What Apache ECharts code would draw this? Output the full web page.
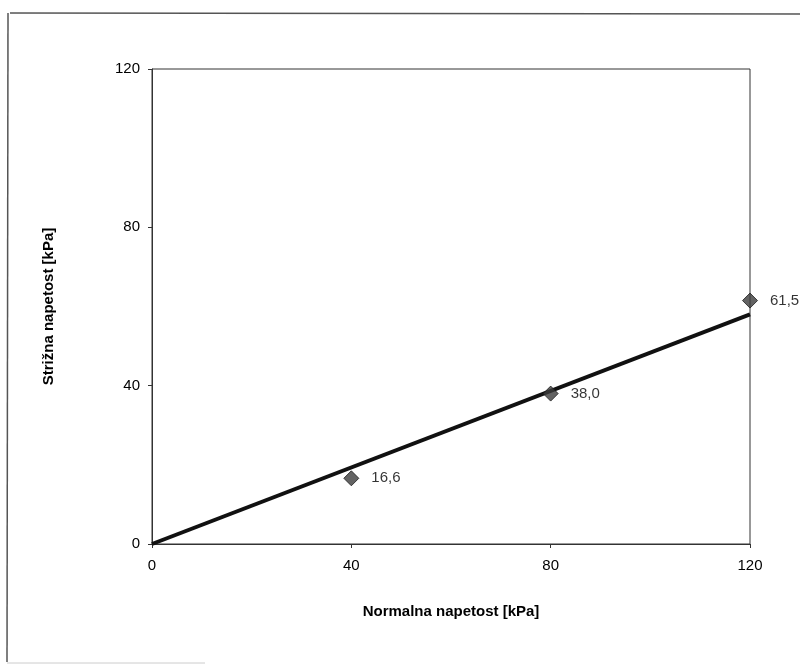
<!DOCTYPE html>
<html>
<head>
<meta charset="utf-8">
<script src="https://cdn.jsdelivr.net/npm/echarts@6/dist/echarts.min.js"></script>
<style>
  html, body { margin: 0; padding: 0; background: #fff; }
  #chart { width: 800px; height: 668px; }
</style>
</head>
<body>
<div id="chart"></div>
<script>
var normalStress = [40, 80, 120];
var shearStress = [16.6, 38.0, 61.5];
var trendX = [0, 120];
var trendY = [0, 58];
var axisTicks = { min: 0, max: 120, interval: 40 };

InitChart();

function InitChart() {
  var myChart = echarts.init(document.getElementById("chart"));
  var points = normalStress.map(function (x, i) { return [x, shearStress[i]]; });
  var trend = trendX.map(function (x, i) { return [x, trendY[i]]; });
  var font = "Liberation Sans, Arial, sans-serif";

  var option = {
    backgroundColor: "#fff",
    animation: false,
    grid: {
      left: 152, right: 50, top: 69, bottom: 124,
      show: true, borderColor: "#333", borderWidth: 1
    },
    xAxis: {
      type: "value",
      min: axisTicks.min, max: axisTicks.max, interval: axisTicks.interval,
      name: "Normalna napetost [kPa]",
      nameLocation: "middle",
      nameGap: 60,
      nameTextStyle: { fontFamily: font, fontSize: 15, fontWeight: "bold", color: "#000" },
      axisLine: { show: true, lineStyle: { color: "#333" } },
      axisTick: { show: true, length: 4, lineStyle: { color: "#333" } },
      axisLabel: { fontFamily: font, fontSize: 15, color: "#000", margin: 14 },
      splitLine: { show: false }
    },
    yAxis: {
      type: "value",
      min: axisTicks.min, max: axisTicks.max, interval: axisTicks.interval,
      name: "Strižna napetost [kPa]",
      nameLocation: "middle",
      nameGap: 96,
      nameTextStyle: { fontFamily: font, fontSize: 15, fontWeight: "bold", color: "#000" },
      axisLine: { show: true, lineStyle: { color: "#333" } },
      axisTick: { show: true, length: 4, lineStyle: { color: "#333" } },
      axisLabel: { fontFamily: font, fontSize: 15, color: "#000", margin: 12 },
      splitLine: { show: false }
    },
    graphic: [
      { type: "line", shape: { x1: 10, y1: 13, x2: 800, y2: 14 }, style: { stroke: "#555", lineWidth: 1.5 } },
      { type: "line", shape: { x1: 8, y1: 13, x2: 7, y2: 662 }, style: { stroke: "#555", lineWidth: 1.5 } },
      { type: "line", shape: { x1: 7, y1: 663, x2: 205, y2: 663 }, style: { stroke: "#ccc", lineWidth: 1 } }
    ],
    series: [
      {
        name: "trend",
        type: "line",
        data: trend,
        symbol: "none",
        lineStyle: { color: "#111", width: 4 },
        z: 2
      },
      {
        name: "Strižna napetost",
        type: "scatter",
        data: points,
        symbol: "diamond",
        symbolSize: 15,
        itemStyle: { color: "#3c3c3c", borderColor: "#1a1a1a", borderWidth: 1 },
        label: {
          show: true,
          position: "right",
          distance: 12,
          fontFamily: font,
          fontSize: 15,
          color: "#000",
          formatter: function (p) { return p.value[1].toFixed(1).replace(".", ","); }
        },
        z: 3
      }
    ]
  };
  myChart.setOption(option);
}
</script>
</body>
</html>
